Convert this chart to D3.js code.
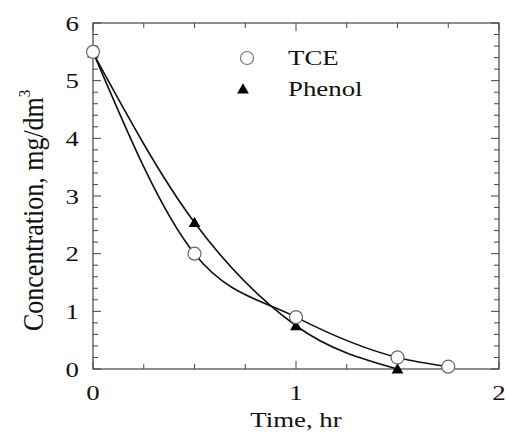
<!DOCTYPE html>
<html><head><meta charset="utf-8">
<script src="https://cdn.jsdelivr.net/npm/d3@7"></script>
<style>body{margin:0;background:#fff}svg{display:block}text{font-family:"Liberation Serif","Times New Roman",serif;fill:#111}</style>
</head><body>
<script>
const tceTime = [0, 0.5, 1.0, 1.5, 1.75];
const tceConc = [5.5, 2.0, 0.9, 0.2, 0.04];
const phenolTime = [0, 0.5, 1.0, 1.5];
const phenolConc = [5.48, 2.54, 0.75, 0.0];
const xTicks = [0, 1, 2];
const yTicks = [0, 1, 2, 3, 4, 5, 6];

const W = 506, H = 432;
const m = {l: 93, r: 7, t: 23, b: 63};
const SX = 1.22; // horizontal stretch of the text in the picture
const svg = d3.select("body").append("svg").attr("width", W).attr("height", H);
const x = d3.scaleLinear().domain([0, 2]).range([m.l, W - m.r]);
const y = d3.scaleLinear().domain([0, 6]).range([H - m.b, m.t]);

function htext(px, py, str, anchor, fs) {
  return svg.append("g").attr("transform", `translate(${px},${py}) scale(${SX},1)`)
    .append("text").attr("text-anchor", anchor).attr("font-size", fs).text(str);
}

// frame
svg.append("rect").attr("x", x(0)).attr("y", y(6)).attr("width", x(2) - x(0)).attr("height", y(0) - y(6))
  .attr("fill", "none").attr("stroke", "#444").attr("stroke-width", 1.2);

// ticks (inward)
const xMinor = d3.range(0, 2.001, 0.25);
const yMinor = d3.range(0, 6.001, 0.2);
const tg = svg.append("g").attr("stroke", "#444").attr("stroke-width", 1);
xMinor.forEach(v => {
  const major = Math.abs(v - Math.round(v)) < 1e-6;
  const L = major ? 8 : 5;
  tg.append("line").attr("x1", x(v)).attr("x2", x(v)).attr("y1", y(0)).attr("y2", y(0) - L);
  tg.append("line").attr("x1", x(v)).attr("x2", x(v)).attr("y1", y(6)).attr("y2", y(6) + L);
});
yMinor.forEach(v => {
  const major = Math.abs(v - Math.round(v)) < 1e-6;
  const L = major ? 8 : 5;
  tg.append("line").attr("y1", y(v)).attr("y2", y(v)).attr("x1", x(0)).attr("x2", x(0) + L);
  tg.append("line").attr("y1", y(v)).attr("y2", y(v)).attr("x1", x(2)).attr("x2", x(2) - L);
});

// tick labels
xTicks.forEach(d => htext(x(d), 400, d, "middle", 22));
yTicks.forEach(d => htext(79, y(d) + 7.5, d, "end", 22));

// axis titles
htext(x(1), 427, "Time, hr", "middle", 22);
const yt = svg.append("g").attr("transform", `translate(43,331) scale(1.15,1) rotate(-90)`)
  .append("text").attr("text-anchor", "start").attr("font-size", 26);
yt.append("tspan").text("Concentration, mg/dm");
yt.append("tspan").attr("dy", -11).attr("font-size", 15).text("3");

// curves
const line = d3.line().x(d => x(d[0])).y(d => y(d[1])).curve(d3.curveMonotoneX);
const tce = tceTime.map((t, i) => [t, tceConc[i]]);
const phe = phenolTime.map((t, i) => [t, phenolConc[i]]);
svg.append("path").attr("d", line(tce)).attr("fill", "none").attr("stroke", "#111").attr("stroke-width", 1.6);
svg.append("path").attr("d", line(phe)).attr("fill", "none").attr("stroke", "#111").attr("stroke-width", 1.6);

// markers
const tri = d3.symbol().type(d3.symbolTriangle).size(60);
svg.selectAll(".tri").data(phe).enter().append("path")
  .attr("d", tri).attr("transform", d => `translate(${x(d[0])},${y(d[1]) + 1})`).attr("fill", "#000");
svg.selectAll(".circ").data(tce).enter().append("circle")
  .attr("cx", d => x(d[0])).attr("cy", d => y(d[1])).attr("r", 6.5)
  .attr("fill", "#fff").attr("stroke", "#666").attr("stroke-width", 1.2);

// legend
svg.append("circle").attr("cx", 247).attr("cy", 58).attr("r", 6.5).attr("fill", "#fff").attr("stroke", "#777").attr("stroke-width", 1.2);
svg.append("path").attr("d", tri).attr("transform", "translate(243,90)").attr("fill", "#000");
htext(288, 65, "TCE", "start", 22);
htext(288, 96, "Phenol", "start", 22);
</script>
</body></html>
